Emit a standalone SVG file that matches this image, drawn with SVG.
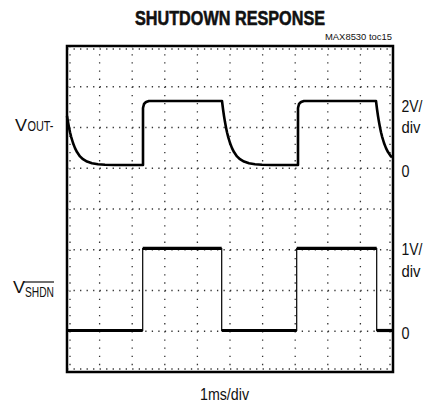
<svg xmlns="http://www.w3.org/2000/svg" width="424" height="404" viewBox="0 0 424 404">
<style>
.t{font-family:"Liberation Sans",Arial,sans-serif;fill:#111}
.gh{stroke:#333;stroke-width:1.3;stroke-dasharray:1.3 5.22;fill:none}
.gv{stroke:#333;stroke-width:1.3;stroke-dasharray:1.3 6.85;fill:none}
.tr{stroke:#000;fill:none;stroke-linejoin:round;stroke-linecap:butt}
</style>
<rect width="424" height="404" fill="#fff"/>
<g id="title">
<text class="t" x="135" y="25" font-size="21" font-weight="bold" stroke="#111" stroke-width="0.6" textLength="190" lengthAdjust="spacingAndGlyphs">SHUTDOWN RESPONSE</text>
<text class="t" x="325" y="39.5" font-size="9" textLength="67" lengthAdjust="spacingAndGlyphs" fill="#222">MAX8530 toc15</text>
</g>
<g id="grid">
<g class="gh">
<line x1="67" y1="86.75" x2="393" y2="86.75"/>
<line x1="67" y1="127.5" x2="393" y2="127.5"/>
<line x1="67" y1="168.25" x2="393" y2="168.25"/>
<line x1="67" y1="209" x2="393" y2="209"/>
<line x1="67" y1="249.75" x2="393" y2="249.75"/>
<line x1="67" y1="290.5" x2="393" y2="290.5"/>
<line x1="67" y1="331.25" x2="393" y2="331.25"/>
<line x1="67" y1="49" x2="393" y2="49"/>
<line x1="67" y1="369" x2="393" y2="369"/>
</g>
<g class="gv">
<line x1="99.6" y1="46" x2="99.6" y2="372"/>
<line x1="132.2" y1="46" x2="132.2" y2="372"/>
<line x1="164.8" y1="46" x2="164.8" y2="372"/>
<line x1="197.4" y1="46" x2="197.4" y2="372"/>
<line x1="230" y1="46" x2="230" y2="372"/>
<line x1="262.6" y1="46" x2="262.6" y2="372"/>
<line x1="295.2" y1="46" x2="295.2" y2="372"/>
<line x1="327.8" y1="46" x2="327.8" y2="372"/>
<line x1="360.4" y1="46" x2="360.4" y2="372"/>
<line x1="70" y1="46" x2="70" y2="372"/>
<line x1="390" y1="46" x2="390" y2="372"/>
</g>
<rect id="frame" x="67" y="46" width="326" height="326" fill="none" stroke="#000" stroke-width="2.5"/>
</g>
<g id="traces">
<polyline id="vout" class="tr" stroke-width="2.6" points="67,116 68,122.1 69,127.4 70,132.2 71,136.3 73,143 75,148.1 77,152.1 80,156.4 83,159.2 87,161.6 92,163.3 98,164.2 105,164.7 115,165 143,165 143,108 144,104 146,102 149,101 222,101 223,109 224,116 225,122.1 226,127.4 227,132.2 228,136.3 230,143 232,148.1 234,152.1 237,156.4 240,159.2 244,161.6 249,163.3 255,164.2 262,164.7 272,165 298,165 298,108 299,104 301,102 304,101 376,101 377,109 378,116 379,122.1 380,127.4 381,132.2 382,136.3 384,143 386,148.1 388,152.1 391,156.4 392,157.5"/>
<g id="vshdn">
<g class="tr" stroke-width="1.2" stroke="#333">
<line x1="142.7" y1="331" x2="142.7" y2="248"/>
<line x1="221.7" y1="331" x2="221.7" y2="248"/>
<line x1="296.7" y1="331" x2="296.7" y2="248"/>
<line x1="376.7" y1="331" x2="376.7" y2="248"/>
</g>
<g class="tr" stroke-width="3.2">
<line x1="67" y1="330.5" x2="142.7" y2="330.5"/>
<line x1="221.7" y1="330.5" x2="296.7" y2="330.5"/>
<line x1="376.7" y1="330.5" x2="392" y2="330.5"/>
<line x1="142.7" y1="248.3" x2="221.7" y2="248.3"/>
<line x1="296.7" y1="248.3" x2="376.7" y2="248.3"/>
</g>
</g>
</g>
<g id="labels">
<text class="t" x="15" y="131" font-size="17" textLength="12" lengthAdjust="spacingAndGlyphs">V</text>
<text class="t" x="27.5" y="131" font-size="14" textLength="26" lengthAdjust="spacingAndGlyphs">OUT-</text>
<text class="t" x="13" y="293" font-size="17" textLength="12" lengthAdjust="spacingAndGlyphs">V</text>
<text class="t" x="25" y="296.5" font-size="14" textLength="29" lengthAdjust="spacingAndGlyphs">SHDN</text>
<line x1="24" y1="282" x2="54" y2="282" stroke="#111" stroke-width="1.2"/>
<text class="t" x="401.5" y="112" font-size="16" textLength="21" lengthAdjust="spacingAndGlyphs">2V/</text>
<text class="t" x="401.5" y="133" font-size="16" textLength="19" lengthAdjust="spacingAndGlyphs">div</text>
<text class="t" x="401.5" y="176.5" font-size="16" textLength="8" lengthAdjust="spacingAndGlyphs">0</text>
<text class="t" x="401.5" y="255" font-size="16" textLength="21" lengthAdjust="spacingAndGlyphs">1V/</text>
<text class="t" x="401.5" y="276.5" font-size="16" textLength="19" lengthAdjust="spacingAndGlyphs">div</text>
<text class="t" x="401.5" y="339" font-size="16" textLength="8" lengthAdjust="spacingAndGlyphs">0</text>
<text class="t" x="200" y="400" font-size="16" textLength="49" lengthAdjust="spacingAndGlyphs">1ms/div</text>
</g>
</svg>
